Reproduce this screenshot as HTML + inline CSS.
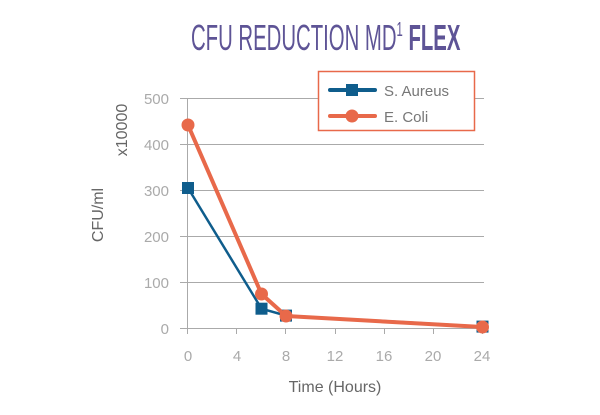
<!DOCTYPE html>
<html><head><style>body{margin:0;background:#fff}</style></head><body>
<svg width="600" height="410" xmlns="http://www.w3.org/2000/svg" font-family="Liberation Sans, sans-serif">
<rect width="600" height="410" fill="#fff"/>
<g transform="translate(191,50) scale(0.565,1)">
<text x="0" y="0" font-size="36" fill="#5e5496" font-family="Liberation Sans Narrow, Liberation Sans, sans-serif">CFU REDUCTION MD<tspan font-size="20" dy="-14">1</tspan><tspan dy="14" font-weight="bold"> FLEX</tspan></text>
</g>
<g stroke="#aaa" stroke-width="1">
<line x1="180" y1="98.5" x2="484" y2="98.5"/>
<line x1="180" y1="144.5" x2="484" y2="144.5"/>
<line x1="180" y1="190.5" x2="484" y2="190.5"/>
<line x1="180" y1="236.5" x2="484" y2="236.5"/>
<line x1="180" y1="282.5" x2="484" y2="282.5"/>
<line x1="180" y1="328.5" x2="484" y2="328.5"/>
<line x1="187.5" y1="98" x2="187.5" y2="334"/>
<line x1="236.5" y1="328" x2="236.5" y2="334"/>
<line x1="285.5" y1="328" x2="285.5" y2="334"/>
<line x1="335.5" y1="328" x2="335.5" y2="334"/>
<line x1="384.5" y1="328" x2="384.5" y2="334"/>
<line x1="433.5" y1="328" x2="433.5" y2="334"/>
<line x1="482.5" y1="328" x2="482.5" y2="334"/>
</g>
<g font-size="15" fill="#aaa" text-anchor="end">
<text x="169" y="104">500</text><text x="169" y="150">400</text><text x="169" y="196">300</text>
<text x="169" y="242">200</text><text x="169" y="288">100</text><text x="169" y="334">0</text>
</g>
<g font-size="15" fill="#aaa" text-anchor="middle">
<text x="188" y="361">0</text><text x="237" y="361">4</text><text x="286" y="361">8</text>
<text x="335" y="361">12</text><text x="384" y="361">16</text><text x="433" y="361">20</text><text x="482" y="361">24</text>
</g>
<text x="335" y="392" font-size="16" fill="#666" text-anchor="middle">Time (Hours)</text>
<text transform="translate(103,215) rotate(-90)" font-size="16" fill="#666" text-anchor="middle">CFU/ml</text>
<text transform="translate(127,130) rotate(-90)" font-size="16" fill="#666" text-anchor="middle">x10000</text>
<polyline points="188,188 261.5,308.7 286,315.6 482.5,326.6" fill="none" stroke="#0f5d8c" stroke-width="2.5"/>
<g fill="#0f5d8c">
<rect x="182" y="182" width="12" height="12"/><rect x="255.5" y="302.7" width="12" height="12"/>
<rect x="280" y="309.6" width="12" height="12"/><rect x="476.5" y="320.6" width="12" height="12"/>
</g>
<polyline points="188,125 261.5,294 286,316 482.5,327" fill="none" stroke="#e8694a" stroke-width="4" stroke-linejoin="round"/>
<g fill="#e8694a">
<circle cx="188" cy="125" r="6.5"/><circle cx="261.5" cy="294" r="6.5"/>
<circle cx="286" cy="316" r="6.5"/><circle cx="482.5" cy="327" r="6.5"/>
</g>
<rect x="318.5" y="71.5" width="156" height="59" fill="#fff" stroke="#e8694a" stroke-width="1.5"/>
<line x1="330" y1="90" x2="375" y2="90" stroke="#0f5d8c" stroke-width="4" stroke-linecap="round"/>
<rect x="346" y="84" width="12" height="12" fill="#0f5d8c"/>
<line x1="330" y1="116" x2="375" y2="116" stroke="#e8694a" stroke-width="4" stroke-linecap="round"/>
<circle cx="352" cy="116" r="6.5" fill="#e8694a"/>
<text x="384" y="96" font-size="15" fill="#777">S. Aureus</text>
<text x="384" y="122" font-size="15" fill="#777">E. Coli</text>
</svg>
</body></html>
